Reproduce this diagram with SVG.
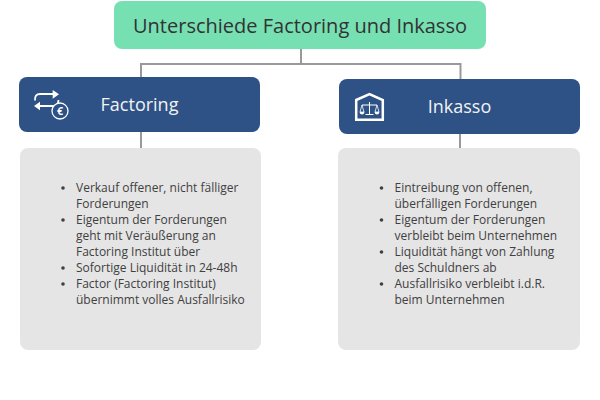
<svg xmlns="http://www.w3.org/2000/svg" width="600" height="400" viewBox="0 0 600 400">
<style>
text{font-family:"Open Sans","Noto Sans",sans-serif}
.conn{fill:none;stroke:#999;stroke-width:2}
.head{fill:#2e5286}
.body{fill:#e5e5e5}
.h{font-size:18px;fill:#f2f2f2;text-anchor:middle}
.b{font-size:12px;fill:#404040}
.ic{fill:none;stroke:#fff;stroke-width:1.800}
.if{fill:#fff}
.dot{fill:#404040}
</style>
<rect width="600" height="400" fill="#fff"/>
<g id="connectors">
<path class="conn" d="M301 48V64M141 77V64H460.500V79"/>
<path class="conn" d="M141 131V148M460 133V148"/>
</g>
<g id="root">
<rect x="114" y="1" width="372" height="48" rx="8" fill="#76e0b3"/>
<text x="300" y="32.500" font-size="20" fill="#333" text-anchor="middle">Unterschiede Factoring und Inkasso</text>
</g>
<g id="factoring">
<rect class="head" x="19" y="77" width="241" height="55" rx="8"/>
<path class="ic" d="M35 100.500Q34.500 94 40 94H54"/>
<path class="if" d="M52.700 90L59 94.300L52.700 98.700Z"/>
<path class="ic" d="M58.500 100Q58.500 106 53 106H39"/>
<path class="if" d="M40 101.700L34 106L40 110.300Z"/>
<circle cx="60" cy="111" r="8" fill="#2e5286" stroke="#fff" stroke-width="1.300"/>
<text x="60" y="115" font-size="10.500" font-weight="700" fill="#fff" text-anchor="middle">€</text>
<text class="h" x="139.500" y="111">Factoring</text>
</g>
<g id="inkasso">
<rect class="head" x="339" y="79" width="241" height="55" rx="8"/>
<path d="M356.200 100L369.500 94L382.800 100V119.800H356.200Z" fill="none" stroke="#fff" stroke-width="2.500"/>
<path d="M369.500 102V114M365.500 114.500H373.500M362 105H377" stroke="#fff" stroke-width="1" fill="none"/>
<path d="M362 105L360 112H364ZM377 105L375 112H379Z" fill="none" stroke="#fff" stroke-width=".8"/>
<path class="if" d="M359.500 112H364.500Q364 114.500 362 114.500T359.500 112ZM374.500 112H379.500Q379 114.500 377 114.500T374.500 112Z"/>
<text class="h" x="459.500" y="113">Inkasso</text>
</g>
<g id="factoring-details">
<rect class="body" x="20" y="148" width="241" height="202" rx="8"/>
<circle class="dot" cx="63" cy="188" r="1.800"/>
<circle class="dot" cx="63" cy="220" r="1.800"/>
<circle class="dot" cx="63" cy="268" r="1.800"/>
<circle class="dot" cx="63" cy="284" r="1.800"/>
<text class="b" x="76" y="192">Verkauf offener, nicht fälliger</text>
<text class="b" x="76" y="208">Forderungen</text>
<text class="b" x="76" y="224">Eigentum der Forderungen</text>
<text class="b" x="76" y="240">geht mit Veräußerung an</text>
<text class="b" x="76" y="256">Factoring Institut über</text>
<text class="b" x="76" y="272">Sofortige Liquidität in 24-48h</text>
<text class="b" x="76" y="288">Factor (Factoring Institut)</text>
<text class="b" x="76" y="304">übernimmt volles Ausfallrisiko</text>
</g>
<g id="inkasso-details">
<rect class="body" x="338" y="148" width="242" height="202" rx="8"/>
<circle class="dot" cx="381.500" cy="188" r="1.800"/>
<circle class="dot" cx="381.500" cy="220" r="1.800"/>
<circle class="dot" cx="381.500" cy="252" r="1.800"/>
<circle class="dot" cx="381.500" cy="284" r="1.800"/>
<text class="b" x="394.500" y="192">Eintreibung von offenen,</text>
<text class="b" x="394.500" y="208">überfälligen Forderungen</text>
<text class="b" x="394.500" y="224">Eigentum der Forderungen</text>
<text class="b" x="394.500" y="240">verbleibt beim Unternehmen</text>
<text class="b" x="394.500" y="256">Liquidität hängt von Zahlung</text>
<text class="b" x="394.500" y="272">des Schuldners ab</text>
<text class="b" x="394.500" y="288">Ausfallrisiko verbleibt i.d.R.</text>
<text class="b" x="394.500" y="304">beim Unternehmen</text>
</g>
</svg>
